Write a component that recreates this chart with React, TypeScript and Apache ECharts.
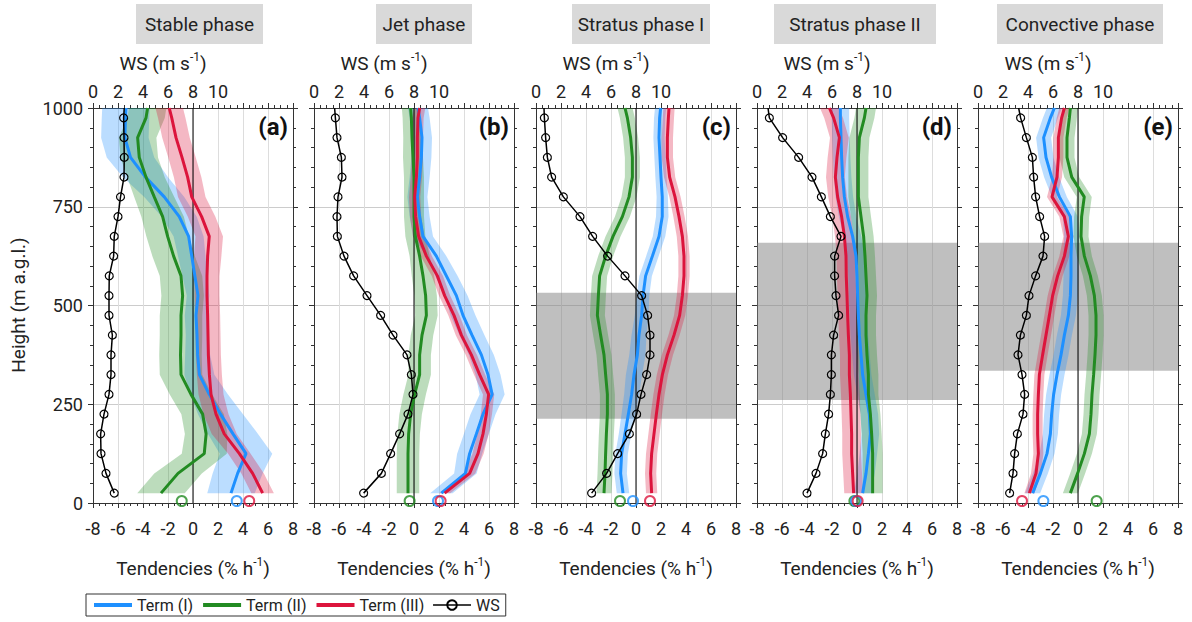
import React, { useEffect, useRef } from 'react';
import * as echarts from 'echarts';

// ---------------- data ----------------
const heights = [25, 75, 125, 175, 225, 275, 325, 375, 425, 475, 525, 575, 625, 675, 725, 775, 825, 875, 925, 975, 1000];
const tendencyTicks = [-8, -6, -4, -2, 0, 2, 4, 6, 8];
const wsTickLabels = [0, 2, 4, 6, 8, 10];
const heightTicks = [0, 250, 500, 750, 1000];
const phases = ['Stable phase', 'Jet phase', 'Stratus phase I', 'Stratus phase II', 'Convective phase'];
const tags = ['(a)', '(b)', '(c)', '(d)', '(e)'];
const legendNames = ['Term (I)', 'Term (II)', 'Term (III)', 'WS'];

// (a) Stable phase
const termI_a = [3.04, 3.57, 4.24, 3.2, 2.2, 1.3, 0.51, 0.37, 0.32, 0.24, 0.4, 0.15, -0.1, -0.35, -1.1, -2.3, -3.8, -5.0, -5.45, -5.4, -5.36];
const termII_a = [-2.56, -1.2, 0.9, 1.05, 0.77, -0.16, -0.96, -1.0, -0.96, -0.96, -0.83, -0.96, -1.55, -2.03, -2.43, -3.1, -3.76, -4.3, -4.43, -3.76, -3.63];
const termIII_a = [5.57, 4.77, 3.71, 2.5, 1.84, 1.44, 1.31, 1.23, 1.2, 1.17, 1.12, 1.12, 1.17, 1.3, 0.69, -0.1, -0.43, -0.88, -1.36, -1.7, -1.9];
const ws_a = [1.7, 1.04, 0.64, 0.61, 0.88, 1.28, 1.44, 1.44, 1.55, 1.28, 1.28, 1.3, 1.65, 1.7, 2.0, 2.2, 2.48, 2.5, 2.48, 2.45, 2.5];
const spreadI_a = [1.9, 2.0, 2.1, 2.0, 1.8, 1.5, 1.2, 1.0, 0.9, 0.9, 0.9, 1.0, 1.1, 1.2, 1.4, 1.6, 1.8, 1.9, 1.9, 1.9, 1.9];
const spreadII_a = [1.9, 1.9, 1.8, 1.7, 1.7, 1.7, 1.7, 1.7, 1.7, 1.7, 1.7, 1.7, 1.7, 1.7, 1.7, 1.6, 1.5, 1.5, 1.5, 1.5, 1.5];
const spreadIII_a = [0.9, 0.9, 0.9, 1.0, 1.0, 1.0, 1.0, 1.0, 1.0, 1.0, 1.0, 1.0, 1.1, 1.1, 1.1, 1.1, 1.1, 1.1, 1.1, 1.1, 1.1];

// (b) Jet phase
const termI_b = [2.19, 4.11, 4.45, 4.99, 5.52, 6.25, 5.92, 5.39, 4.64, 3.92, 3.39, 2.59, 1.79, 0.72, 0.45, 0.27, 0.45, 0.59, 0.64, 0.45, 0.32];
const termII_b = [-0.48, -0.48, -0.48, -0.43, -0.27, 0.05, 0.45, 0.45, 0.64, 0.99, 0.93, 0.72, 0.45, 0.11, 0, 0, 0, -0.08, -0.16, -0.21, -0.27];
const termIII_b = [2.45, 4.45, 5.12, 5.52, 5.79, 5.97, 5.25, 4.59, 3.79, 3.2, 2.45, 1.87, 0.99, 0.37, 0.13, 0.05, 0.19, 0.27, 0.27, 0.32, 0.45];
const ws_b = [3.97, 5.39, 6.13, 6.85, 7.52, 7.92, 7.79, 7.44, 6.32, 5.33, 4.24, 3.17, 2.4, 1.87, 1.84, 1.92, 2.24, 2.19, 1.84, 1.71, 1.65];
const spreadI_b = [0.9, 0.9, 1.0, 1.0, 1.0, 1.0, 1.0, 1.0, 1.0, 1.0, 0.9, 0.9, 0.8, 0.8, 0.8, 0.8, 0.8, 0.8, 0.8, 0.8, 0.8];
const spreadII_b = [0.9, 0.9, 0.9, 0.9, 0.9, 0.9, 0.9, 0.9, 0.9, 0.9, 0.9, 0.9, 0.8, 0.8, 0.8, 0.8, 0.8, 0.8, 0.7, 0.7, 0.7];
const spreadIII_b = [0.45, 0.45, 0.45, 0.45, 0.45, 0.45, 0.45, 0.45, 0.45, 0.45, 0.45, 0.45, 0.45, 0.45, 0.45, 0.45, 0.45, 0.45, 0.45, 0.45, 0.45];

// (c) Stratus phase I
const termI_c = [-1.04, -1.23, -1.15, -0.88, -0.61, -0.35, -0.16, 0.11, 0.24, 0.45, 0.56, 0.77, 1.31, 1.84, 2.1, 2.1, 2.0, 1.92, 1.84, 1.89, 1.97];
const termII_c = [-2.56, -2.48, -2.43, -2.37, -2.29, -2.29, -2.43, -2.56, -2.83, -3.09, -3.01, -2.91, -2.43, -1.84, -1.09, -0.56, -0.29, -0.29, -0.43, -0.69, -0.88];
const termIII_c = [1.25, 1.17, 1.25, 1.44, 1.63, 1.84, 2.11, 2.51, 3.04, 3.49, 3.71, 3.84, 3.84, 3.71, 3.44, 3.12, 2.69, 2.51, 2.51, 2.59, 2.64];
const ws_c = [4.45, 5.65, 6.53, 7.47, 8.05, 8.4, 8.85, 9.12, 9.12, 8.93, 8.45, 7.12, 5.73, 4.53, 3.52, 2.19, 1.25, 0.91, 0.77, 0.67, 0.64];
const spreadI_c = [0.5, 0.5, 0.5, 0.5, 0.55, 0.6, 0.65, 0.65, 0.6, 0.55, 0.5, 0.5, 0.5, 0.5, 0.5, 0.45, 0.45, 0.45, 0.45, 0.45, 0.45];
const spreadII_c = [0.6, 0.6, 0.6, 0.6, 0.6, 0.6, 0.6, 0.6, 0.6, 0.6, 0.6, 0.6, 0.6, 0.6, 0.6, 0.6, 0.6, 0.6, 0.6, 0.6, 0.6];
const spreadIII_c = [0.45, 0.45, 0.45, 0.45, 0.45, 0.45, 0.45, 0.45, 0.45, 0.45, 0.45, 0.45, 0.45, 0.45, 0.45, 0.45, 0.45, 0.45, 0.45, 0.45, 0.45];

// (d) Stratus phase II
const termI_d = [0.45, 0.72, 0.91, 1.07, 0.99, 0.72, 0.45, 0.32, 0.19, 0.11, 0.05, 0, -0.08, -0.35, -0.75, -1.01, -1.15, -1.23, -1.28, -1.33, -1.33];
const termII_d = [1.25, 1.25, 1.25, 1.17, 1.07, 0.91, 0.91, 0.8, 0.72, 0.72, 0.8, 0.72, 0.64, 0.53, 0.32, 0.11, 0.11, 0.11, 0.19, 0.59, 0.72];
const termIII_d = [-0.27, -0.35, -0.43, -0.43, -0.48, -0.53, -0.61, -0.61, -0.69, -0.75, -0.8, -0.86, -0.88, -1.01, -1.23, -1.55, -1.73, -1.6, -1.41, -1.87, -2.21];
const ws_d = [4.0, 4.72, 5.25, 5.47, 5.73, 5.87, 5.95, 5.95, 6.13, 6.53, 6.32, 6.21, 6.21, 6.72, 5.87, 5.15, 4.4, 3.33, 2.05, 0.99, 0.88];
const spreadI_d = [0.7, 0.7, 0.7, 0.7, 0.7, 0.7, 0.7, 0.7, 0.7, 0.7, 0.7, 0.7, 0.7, 0.7, 0.7, 0.7, 0.7, 0.7, 0.7, 0.7, 0.7];
const spreadII_d = [0.8, 0.8, 0.8, 0.8, 0.8, 0.8, 0.8, 0.8, 0.8, 0.8, 0.8, 0.8, 0.8, 0.8, 0.8, 0.8, 0.8, 0.8, 0.8, 0.8, 0.8];
const spreadIII_d = [0.75, 0.75, 0.75, 0.75, 0.75, 0.75, 0.75, 0.75, 0.75, 0.75, 0.75, 0.75, 0.75, 0.75, 0.75, 0.75, 0.75, 0.75, 0.75, 0.75, 0.75];

// (e) Convective phase
const termI_e = [-3.63, -3.01, -2.48, -2.21, -2.11, -1.95, -1.68, -1.36, -1.09, -0.77, -0.61, -0.56, -0.56, -0.51, -0.61, -1.49, -2.11, -2.56, -2.75, -2.21, -1.89];
const termII_e = [-0.61, -0.03, 0.51, 0.91, 1.04, 1.12, 1.25, 1.36, 1.44, 1.44, 1.31, 0.99, 0.51, 0.24, 0.29, 0.5, -0.5, -0.88, -0.88, -0.69, -0.61];
const termIII_e = [-3.89, -3.36, -3.17, -3.23, -3.23, -3.17, -3.09, -2.83, -2.56, -2.29, -2.03, -1.63, -1.09, -0.77, -1.09, -2.08, -1.68, -1.57, -1.57, -1.31, -1.09];
const ws_e = [2.53, 2.8, 2.93, 3.15, 3.6, 3.73, 3.52, 3.2, 3.39, 3.87, 4.08, 4.61, 5.2, 5.33, 4.93, 4.61, 4.45, 4.35, 3.87, 3.41, 3.25];
const spreadI_e = [0.6, 0.6, 0.6, 0.6, 0.6, 0.6, 0.6, 0.6, 0.6, 0.6, 0.6, 0.6, 0.6, 0.6, 0.6, 0.6, 0.6, 0.6, 0.6, 0.6, 0.6];
const spreadII_e = [0.6, 0.6, 0.6, 0.6, 0.6, 0.6, 0.6, 0.6, 0.6, 0.6, 0.6, 0.6, 0.6, 0.6, 0.6, 0.6, 0.6, 0.6, 0.6, 0.6, 0.6];
const spreadIII_e = [0.4, 0.4, 0.4, 0.4, 0.4, 0.4, 0.4, 0.4, 0.4, 0.4, 0.4, 0.4, 0.4, 0.4, 0.4, 0.4, 0.4, 0.4, 0.4, 0.4, 0.4];

// surface values (plotted at the ground)
const surfaceI = [3.5, 1.92, -0.24, -0.08, -2.77];
const surfaceII = [-0.9, -0.35, -1.28, -0.21, 1.49];
const surfaceIII = [4.5, 2.13, 1.12, 0.05, -4.48];
const surfaceLevel = 5;

// cloud layer (grey shading) base / top, m
const cloudBase = [null, null, 213, 261, 335];
const cloudTop = [null, null, 532, 659, 659];

const panels = [
  { I: termI_a, II: termII_a, III: termIII_a, ws: ws_a, sI: spreadI_a, sII: spreadII_a, sIII: spreadIII_a },
  { I: termI_b, II: termII_b, III: termIII_b, ws: ws_b, sI: spreadI_b, sII: spreadII_b, sIII: spreadIII_b },
  { I: termI_c, II: termII_c, III: termIII_c, ws: ws_c, sI: spreadI_c, sII: spreadII_c, sIII: spreadIII_c },
  { I: termI_d, II: termII_d, III: termIII_d, ws: ws_d, sI: spreadI_d, sII: spreadII_d, sIII: spreadIII_d },
  { I: termI_e, II: termII_e, III: termIII_e, ws: ws_e, sI: spreadI_e, sII: spreadII_e, sIII: spreadIII_e },
];

// ---------------- layout / style ----------------
const LEFTS = [93, 314, 536, 757, 978];
const GW = 200;
const GT = 108;
const GH = 395;
const TITLE_BOXES = [[136, 263], [376, 472], [572, 710], [774, 936], [997, 1163]];
const FONT = 'Roboto, "Noto Sans", sans-serif';
const TXT = '#222';
const AX = '#333';
const COL = { I: '#1E90FF', II: '#228B22', III: '#DC143C' };
const BAND = { I: 'rgba(30,144,255,0.3)', II: 'rgba(34,139,34,0.3)', III: 'rgba(220,20,60,0.3)' };

function buildOption() {
  const tMin = tendencyTicks[0];
  const tMax = tendencyTicks[tendencyTicks.length - 1];
  const grid: any[] = [];
  const xAxis: any[] = [];
  const yAxis: any[] = [];
  const series: any[] = [];
  const graphic: any[] = [];

  LEFTS.forEach((left, i) => {
    grid.push({ left, top: GT, width: GW, height: GH, containLabel: false });
    // bottom tendency axis
    xAxis.push({
      gridIndex: i, type: 'value', position: 'bottom', min: tMin, max: tMax, interval: 2,
      axisLine: { onZero: false, lineStyle: { color: AX, width: 1 } },
      axisTick: { length: 5, lineStyle: { color: AX } },
      minorTick: { show: true, splitNumber: 4, length: 3, lineStyle: { color: AX } },
      axisLabel: { fontSize: 18, color: TXT, fontFamily: FONT, margin: 16 },
      splitLine: { show: true, lineStyle: { color: '#dddddd', width: 1 } },
    });
    // top WS axis
    xAxis.push({
      gridIndex: i, type: 'value', position: 'top', min: 0, max: 16, interval: 2,
      axisLine: { onZero: false, lineStyle: { color: AX, width: 1 } },
      axisTick: { length: 5, lineStyle: { color: AX } },
      minorTick: { show: true, splitNumber: 4, length: 3, lineStyle: { color: AX } },
      axisLabel: {
        fontSize: 18, color: TXT, fontFamily: FONT, margin: 8,
        formatter: (v: number) => (wsTickLabels.indexOf(v) >= 0 ? String(v) : ''),
      },
      splitLine: { show: false },
    });
    yAxis.push({
      gridIndex: i, type: 'value', position: 'left', min: heightTicks[0], max: heightTicks[heightTicks.length - 1], interval: 250,
      axisLine: { onZero: false, lineStyle: { color: AX, width: 1 } },
      axisTick: { length: 5, lineStyle: { color: AX } },
      minorTick: { show: true, splitNumber: 5, length: 3, lineStyle: { color: AX } },
      axisLabel: {
        show: i === 0, fontSize: 18, color: TXT, fontFamily: FONT, margin: 10,
        formatter: (v: number) => String(v),
      },
      splitLine: { show: true, lineStyle: { color: '#cccccc', width: 1 } },
    });
    yAxis.push({
      gridIndex: i, type: 'value', position: 'right', min: heightTicks[0], max: heightTicks[heightTicks.length - 1], interval: 250,
      axisLine: { onZero: false, lineStyle: { color: AX, width: 1 } },
      axisTick: { length: 5, lineStyle: { color: AX } },
      minorTick: { show: true, splitNumber: 5, length: 3, lineStyle: { color: AX } },
      axisLabel: { show: false },
      splitLine: { show: false },
    });

    const xb = 2 * i;
    const xt = 2 * i + 1;
    const yl = 2 * i;
    const p = panels[i];

    if (cloudBase[i] != null) {
      const lo = cloudBase[i] as number;
      const hi = cloudTop[i] as number;
      series.push({
        type: 'custom', name: 'cloud', xAxisIndex: xb, yAxisIndex: yl, z: 1, silent: true,
        data: [[tMin, lo]],
        renderItem: (_params: any, api: any) => {
          const a = api.coord([tMin, lo]);
          const b = api.coord([tMax, hi]);
          return {
            type: 'rect',
            shape: { x: a[0], y: b[1], width: b[0] - a[0], height: a[1] - b[1] },
            style: { fill: 'rgba(128,128,128,0.5)' },
          };
        },
      });
    }

    const bands: [number[], number[], string][] = [
      [p.I, p.sI, BAND.I],
      [p.II, p.sII, BAND.II],
      [p.III, p.sIII, BAND.III],
    ];
    bands.forEach(([center, spread, fill], bi) => {
      series.push({
        type: 'custom', name: 'band' + bi, xAxisIndex: xb, yAxisIndex: yl, z: 2, silent: true,
        data: [[center[0], heights[0]]],
        renderItem: (_params: any, api: any) => {
          const pts: number[][] = [];
          for (let k = 0; k < heights.length; k++) pts.push(api.coord([center[k] - spread[k], heights[k]]));
          for (let k = heights.length - 1; k >= 0; k--) pts.push(api.coord([center[k] + spread[k], heights[k]]));
          return { type: 'polygon', shape: { points: pts }, style: { fill } };
        },
      });
    });

    // zero line
    series.push({
      type: 'line', name: 'zero', xAxisIndex: xb, yAxisIndex: yl, z: 3, silent: true,
      data: [[0, heightTicks[0]], [0, heightTicks[heightTicks.length - 1]]],
      symbol: 'none', lineStyle: { color: '#000', width: 1 },
    });

    const terms: [string, number[], string][] = [
      ['Term (I)', p.I, COL.I],
      ['Term (II)', p.II, COL.II],
      ['Term (III)', p.III, COL.III],
    ];
    terms.forEach(([name, vals, color]) => {
      series.push({
        type: 'line', name, xAxisIndex: xb, yAxisIndex: yl, z: 4,
        data: heights.map((h, k) => [vals[k], h]),
        symbol: 'none', color,
        lineStyle: { color, width: 3 },
      });
    });

    series.push({
      type: 'line', name: 'WS', xAxisIndex: xt, yAxisIndex: yl, z: 5,
      data: heights.map((h, k) =>
        h === heightTicks[heightTicks.length - 1]
          ? { value: [p.ws[k], h], symbol: 'none' }
          : { value: [p.ws[k], h] }
      ),
      symbol: 'circle', symbolSize: 8, color: '#000',
      itemStyle: { color: 'rgba(255,255,255,0)', borderColor: '#000', borderWidth: 1.2 },
      lineStyle: { color: '#000', width: 1.5 },
    });

    const surf: [number, string][] = [
      [surfaceII[i], COL.II],
      [surfaceI[i], COL.I],
      [surfaceIII[i], COL.III],
    ];
    surf.forEach(([v, color], si) => {
      series.push({
        type: 'scatter', name: 'surface' + si, xAxisIndex: xb, yAxisIndex: yl, z: 5, silent: true,
        data: [[v, surfaceLevel]], symbol: 'circle', symbolSize: 10, clip: false,
        itemStyle: { color: 'rgba(255,255,255,0)', borderColor: color, borderWidth: 2 },
      });
    });

    // texts
    const [bx0, bx1] = TITLE_BOXES[i];
    graphic.push({
      type: 'rect', silent: true, shape: { x: bx0, y: 4, width: bx1 - bx0, height: 40 },
      style: { fill: '#d9d9d9' },
    });
    graphic.push({
      type: 'text', silent: true, x: (bx0 + bx1) / 2, y: 24,
      style: {
        text: phases[i], fill: TXT, font: `19px ${FONT}`,
        align: 'center', verticalAlign: 'middle', textAlign: 'center', textVerticalAlign: 'middle',
      },
    });
    graphic.push({
      type: 'text', silent: true, x: left + 195, y: 127, z: 10,
      style: {
        text: tags[i], fill: '#111', font: `bold 24px ${FONT}`,
        align: 'right', verticalAlign: 'middle', textAlign: 'right', textVerticalAlign: 'middle',
      },
    });
    graphic.push({
      type: 'text', silent: true, x: left + 70, y: 63,
      style: {
        text: '{t|WS (m s}{s|-1}{t|)}',
        rich: {
          t: { fontSize: 19, fontFamily: FONT, fill: TXT, lineHeight: 24 },
          s: { fontSize: 12, fontFamily: FONT, fill: TXT, verticalAlign: 'top' },
        },
        align: 'center', verticalAlign: 'middle', textAlign: 'center', textVerticalAlign: 'middle',
      },
    });
    graphic.push({
      type: 'text', silent: true, x: left + GW / 2, y: 568,
      style: {
        text: '{t|Tendencies (% h}{s|-1}{t|)}',
        rich: {
          t: { fontSize: 19, fontFamily: FONT, fill: TXT, lineHeight: 24 },
          s: { fontSize: 12, fontFamily: FONT, fill: TXT, verticalAlign: 'top' },
        },
        align: 'center', verticalAlign: 'middle', textAlign: 'center', textVerticalAlign: 'middle',
      },
    });
  });

  graphic.push({
    type: 'text', silent: true, x: 18, y: 305, rotation: Math.PI / 2,
    style: {
      text: 'Height (m a.g.l.)', fill: TXT, font: `19px ${FONT}`,
      align: 'center', verticalAlign: 'middle', textAlign: 'center', textVerticalAlign: 'middle',
    },
  });

  const legendData = legendNames.map((name, k) =>
    k < 3
      ? { name, itemStyle: { opacity: 0 }, lineStyle: { width: 4 } }
      : { name, lineStyle: { width: 1.5 } }
  );

  return {
    animation: false,
    backgroundColor: '#ffffff',
    textStyle: { fontFamily: FONT },
    grid, xAxis, yAxis, series, graphic,
    legend: {
      data: legendData,
      left: 86, top: 594,
      itemWidth: 38, itemHeight: 12, itemGap: 8,
      padding: [3, 6],
      borderColor: '#333', borderWidth: 1, borderRadius: 0,
      selectedMode: false,
      textStyle: { fontSize: 16, color: TXT, fontFamily: FONT },
    },
  };
}

export default function App() {
  const ref = useRef<HTMLDivElement>(null);
  useEffect(() => {
    if (!ref.current) return;
    const chart = echarts.init(ref.current, undefined, { renderer: 'svg' });
    chart.setOption(buildOption() as any);
    return () => chart.dispose();
  }, []);
  return (
    <div
      ref={ref}
      style={{ position: 'fixed', left: 0, top: 0, width: 1192, height: 622, background: '#fff' }}
    />
  );
}
